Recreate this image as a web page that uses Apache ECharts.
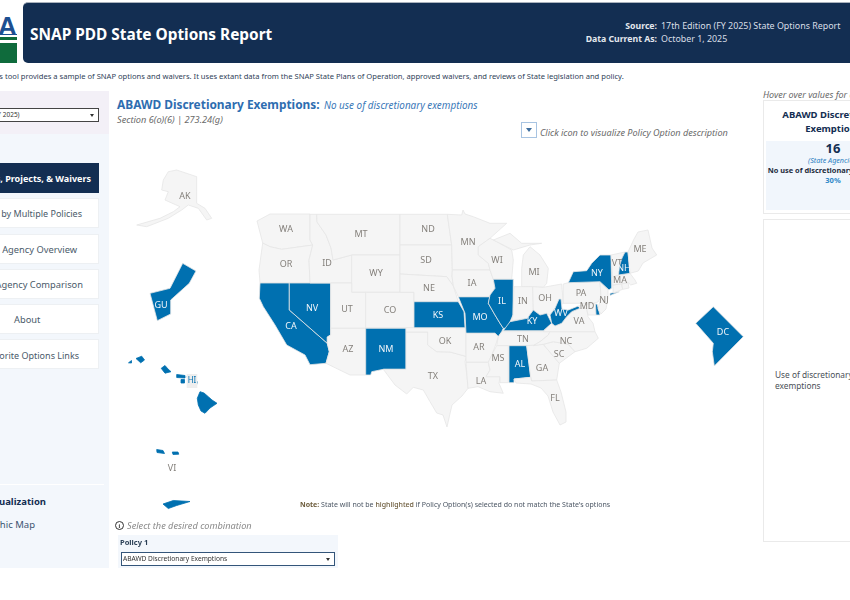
<!DOCTYPE html>
<html>
<head>
<meta charset="utf-8">
<script src="https://cdn.jsdelivr.net/npm/echarts@6/dist/echarts.min.js"></script>
<style>
    html, body { margin:0; padding:0; width:850px; height:600px; overflow:hidden; background:#fff;
        font-family:"Noto Sans", "Open Sans", sans-serif; }
    .box { position:absolute; box-sizing:border-box; }
    .t { position:absolute; white-space:nowrap; line-height:1; }
    .r { text-align:right; }
    .c { text-align:center; }
    .btn { position:absolute; left:-20px; width:118.5px; background:#fff; border:1px solid #edf0f3; box-sizing:border-box; }
    .lbl { position:absolute; white-space:nowrap; font-size:9.5px; color:#4a4f57; line-height:1; }
</style>
</head>
<body>

<!-- header -->
<div class="t" style="left:-2px;top:11px;font:bold 26px 'Liberation Sans';color:#1d4f91;">A</div>
<div class="box" style="left:0;top:34px;width:17px;height:1px;background:#1d4f91;"></div>
<div class="box" style="left:0;top:37px;width:17px;height:3px;background:#0f6b3c;"></div>
<div class="box" style="left:0;top:43px;width:17px;height:20px;background:#0f6b3c;"></div>
<div class="box" style="left:23px;top:2px;width:827px;height:61px;background:#132e52;border-top:1px solid #aab2bd;border-radius:5px 0 0 5px;"></div>
<div class="t" style="left:30px;top:27px;font-size:15.4px;font-weight:700;color:#fff;">SNAP PDD State Options Report</div>
<div class="t r" style="right:193px;top:22px;font-size:8.7px;font-weight:700;color:#e4e8ee;">Source:</div>
<div class="t" style="left:661px;top:22px;font-size:8.9px;color:#d9dee6;">17th Edition (FY 2025) State Options Report</div>
<div class="t r" style="right:193px;top:35px;font-size:8.7px;font-weight:700;color:#e4e8ee;">Data Current As:</div>
<div class="t" style="left:661px;top:35px;font-size:8.9px;color:#d9dee6;">October 1, 2025</div>

<div class="t" style="left:-11.5px;top:73px;font-size:7.6px;color:#2f4258;">This tool provides a sample of SNAP options and waivers. It uses extant data from the SNAP State Plans of Operation, approved waivers, and reviews of State legislation and policy.</div>

<!-- left sidebar -->
<div class="box" style="left:0;top:91px;width:109px;height:43px;background:#f3f0f7;"></div>
<div class="box" style="left:0;top:134px;width:109px;height:434px;background:#f3f7fc;"></div>
<div class="box" style="left:-4px;top:108px;width:103px;height:14px;background:#fff;border:1px solid #444;"></div>
<div class="t" style="left:-6px;top:112px;font-size:6.5px;color:#333;">FY 2025)</div>
<div class="box" style="left:90px;top:114px;border-left:2.5px solid transparent;border-right:2.5px solid transparent;border-top:3px solid #333;"></div>

<div class="box" style="left:-20px;top:163px;width:118.5px;height:30px;background:#132e52;"></div>
<div class="t r" style="right:759px;top:174px;font-size:9px;font-weight:700;color:#fff;">Options, Projects, &amp; Waivers</div>
<div class="btn" style="top:198px;height:30px;"></div>
<div class="t r" style="right:768px;top:209px;font-size:9px;color:#4a5a6a;">Filter by Multiple Policies</div>
<div class="btn" style="top:234px;height:30px;"></div>
<div class="t r" style="right:773px;top:245px;font-size:9.3px;color:#4a5a6a;">State Agency Overview</div>
<div class="btn" style="top:269px;height:30px;"></div>
<div class="t r" style="right:767px;top:280px;font-size:9.3px;color:#4a5a6a;">State Agency Comparison</div>
<div class="btn" style="top:304px;height:30px;"></div>
<div class="t" style="left:14px;top:315px;font-size:9.3px;color:#4a5a6a;">About</div>
<div class="btn" style="top:339px;height:30px;"></div>
<div class="t r" style="right:771px;top:351px;font-size:9px;color:#4a5a6a;">Favorite Options Links</div>

<div class="box" style="left:0;top:484px;width:104px;height:1px;background:#fff;"></div>
<div class="t r" style="right:804px;top:497px;font-size:9.5px;font-weight:700;color:#132e52;">Visualization</div>
<div class="t r" style="right:815px;top:520px;font-size:9.5px;color:#3c5470;">Geographic Map</div>

<!-- title block -->
<div class="t" style="left:117px;top:99px;font-size:11.9px;font-weight:700;color:#2e6db0;">ABAWD Discretionary Exemptions:</div>
<div class="t" style="left:324px;top:100.5px;font-size:9.9px;font-style:italic;color:#3a78b8;">No use of discretionary exemptions</div>
<div class="t" style="left:117px;top:114.5px;font-size:9.2px;font-style:italic;color:#6a6a6a;">Section 6(o)(6) | 273.24(g)</div>
<div class="box" style="left:521px;top:122px;width:16px;height:16px;background:#fff;border:1px solid #a8c4e2;"></div>
<div class="box" style="left:526px;top:128px;border-left:3px solid transparent;border-right:3px solid transparent;border-top:4px solid #3f6f9f;"></div>
<div class="t" style="left:540px;top:127.5px;font-size:9.1px;font-style:italic;color:#6a6a6a;">Click icon to visualize Policy Option description</div>

<!-- right panel -->
<div class="t" style="left:763px;top:90px;font-size:9px;font-style:italic;color:#6a6a6a;">Hover over values for details</div>
<div class="box" style="left:763px;top:100px;width:120px;height:114px;border:1px solid #eaeaea;background:#fff;"></div>
<div class="box" style="left:766px;top:141px;width:120px;height:69px;background:#f1f6fc;"></div>
<div class="t c" style="left:763px;width:140px;margin-left:0;top:110px;font-size:9.5px;font-weight:700;color:#132e52;">ABAWD Discretionary</div>
<div class="t c" style="left:763px;width:140px;top:124px;font-size:9.5px;font-weight:700;color:#132e52;">Exemptions</div>
<div class="t c" style="left:763px;width:140px;top:142px;font-size:13px;font-weight:700;color:#132e52;">16</div>
<div class="t c" style="left:763px;width:140px;top:156.5px;font-size:7.2px;font-style:italic;color:#2e7fc2;">(State Agencies)</div>
<div class="t c" style="left:763px;width:140px;top:167px;font-size:7.4px;font-weight:700;color:#1e2c3c;">No use of discretionary exemptions</div>
<div class="t c" style="left:763px;width:140px;top:177px;font-size:7.5px;font-weight:700;color:#2e88c8;">30%</div>
<div class="box" style="left:763px;top:219px;width:120px;height:323px;border:1px solid #eaeaea;background:#fff;"></div>
<div class="lbl" style="left:775px;top:371px;font-size:8.3px;">Use of discretionary</div>
<div class="lbl" style="left:775px;top:382px;font-size:8.3px;">exemptions</div>

<!-- map -->
<div id="main" class="box" style="left:110px;top:140px;width:650px;height:380px;"></div>

<!-- footer -->
<div class="t" style="left:300px;top:501px;font-size:7px;color:#4a5563;"><b style="color:#6b5a3a;">Note:</b> State will not be <b style="color:#6b5a3a;font-weight:500;">highlighted</b> if Policy Option(s) selected do not match the State's options</div>
<div class="box" style="left:115px;top:521px;width:9px;height:9px;border:1px solid #333;border-radius:50%;"></div>
<div class="t" style="left:118.5px;top:523px;font:bold 6px 'Liberation Serif';color:#333;">i</div>
<div class="t" style="left:127px;top:521px;font-size:9.2px;font-style:italic;color:#8a8a8a;">Select the desired combination</div>
<div class="box" style="left:118px;top:535px;width:220px;height:33px;background:#f3f7fc;"></div>
<div class="t" style="left:120px;top:539px;font-size:7.5px;font-weight:700;color:#2a3f55;">Policy 1</div>
<div class="box" style="left:121px;top:552px;width:214px;height:14px;background:#fff;border:1px solid #33557a;"></div>
<div class="t" style="left:123px;top:555.5px;font-size:6.6px;color:#333;">ABAWD Discretionary Exemptions</div>
<div class="box" style="left:326px;top:558px;border-left:2.5px solid transparent;border-right:2.5px solid transparent;border-top:3px solid #333;"></div>

<script>
    // 16 of 53 state agencies make no use of discretionary exemptions
    var noExemptionStates = ['CA','NV','NM','KS','MO','IL','AL','KY','WV','NY','NH','DE','GU','DC','HI','VI'];
    var unlabelledStates = ['DE','CT','RI'];
    var islandStates = ['HI','VI'];
    var stateCodes = ['WA','OR','CA','NV','ID','MT','WY','UT','CO','AZ','NM','TX','OK','ND','SD','NE','KS','MO','AR','LA',
        'MN','IA','WI','IL','MI','IN','OH','KY','TN','MS','AL','GA','FL','SC','NC','VA','WV','MD','DE','PA','NJ','NY','CT',
        'RI','MA','VT','NH','ME','AK','HI','GU','DC','VI'];

    // outlines, in its own page units (x, y down)
    var stateShapes = {
        WA: [[[257,221],[270,214],[310,214],[310,240],[312.7,245],[281.7,249.3],[270,246.7],[262.7,243]]],
        OR: [[[262.7,243],[270,246.7],[281.7,249.3],[312.7,245],[309,260],[310,283],[260,283],[259,270]]],
        CA: [[[260,283],[289.3,283],[289.3,310],[327.3,343.3],[329.3,351.7],[326,363.3],[310,364.7],[305,355],[286.7,345],[275,325],[263.3,306.7],[259.3,298.3]]],
        NV: [[[289.3,283],[330.7,283],[330.7,335],[327.3,337],[327.3,343.3],[289.3,310]]],
        ID: [[[310,214.3],[316.7,214.3],[317,222],[326,235],[331,248],[333,260],[351.7,255],[351.7,283],[310,283],[309,260],[312.7,245],[310,240]]],
        MT: [[[316.7,214.3],[400,214.3],[400,255],[351.7,255],[333,260],[331,248],[326,235],[317,222]]],
        WY: [[[351.7,255],[400,255],[400,292.3],[351.7,292.3]]],
        UT: [[[330.7,283],[351.7,283],[351.7,292.3],[365.7,292.3],[365.7,328.3],[330.7,328.3]]],
        CO: [[[365.7,292.3],[414,292.3],[414,327.7],[365.7,327.7]]],
        AZ: [[[330.7,328.3],[365.7,328.3],[365.7,375],[350,375],[326,363.3],[329.3,351.7],[327.3,343.3],[327.3,337],[330.7,335]]],
        NM: [[[365.7,328.3],[406,328.3],[406,369.3],[383.3,369.3],[371.7,371.7],[370.7,375],[365.7,375]]],
        TX: [[[406,332],[427.7,332],[427.7,345],[436.7,351.7],[450,352],[466.5,356.5],[465,361.7],[467,376],[468,388.3],[462,396],[452,405],[449,418],[447,427],[443,415],[436.7,413],[430,401.7],[423.3,390],[413.3,387.3],[406.7,394],[395,385],[383.3,369.3],[406,369.3]]],
        OK: [[[406,327.7],[466,327.7],[466,333.3],[466,353],[466.5,356.5],[450,352],[436.7,351.7],[427.7,345],[427.7,332],[406,332]]],
        ND: [[[400,214.3],[447.3,214.3],[451.7,245],[400,245]]],
        SD: [[[400,245],[451.7,245],[452.3,270],[452,276],[453.3,286],[446.7,276.7],[400,274]]],
        NE: [[[400,274],[446.7,276.7],[453.3,286],[458.3,301.7],[414,301.7],[414,292.3],[400,292.3]]],
        KS: [[[414,301.7],[458.3,301.7],[464,311.7],[465,327.7],[414,327.7]]],
        MO: [[[458.3,296.7],[490,296.7],[488.3,303.3],[495,315],[500,323.3],[503.3,328.3],[501.7,331.7],[498.3,336.7],[495,333.3],[466,333.3],[465,313.3]]],
        AR: [[[466,333.3],[495,333.3],[498.3,336.7],[495,346.7],[491.7,355],[488.3,362.3],[466,362.3]]],
        LA: [[[466,362.3],[488.3,362.3],[490,370],[486,376.7],[500,376.7],[499,383.3],[503.3,393.3],[490,391.7],[478,386.7],[468,388.3],[467,376]]],
        MN: [[[447.3,214.3],[461.7,215],[463,210],[465,214],[473.3,216.7],[490,223.3],[506.7,223.3],[490,238.3],[478.3,246.7],[478.3,255],[488.3,263.3],[490,270],[452.3,270],[451.7,245]]],
        IA: [[[452.3,270],[490,270],[493.3,279.3],[495,288.3],[490,296.7],[458.3,296.7],[453.3,286],[452,276]]],
        WI: [[[478.3,246.7],[490,238.3],[496.7,241.7],[511.7,250],[513.3,260],[511.7,279.3],[493.3,279.3],[490,270],[488.3,263.3],[478.3,255]]],
        IL: [[[493.3,279.3],[513.3,279.3],[513,315],[510,321.7],[508,328.3],[503.3,328.3],[500,323.3],[495,315],[488.3,303.3],[490,295],[495,288.3]]],
        MI: [[[523.3,255],[530,246.7],[540,255],[548.3,268.3],[546.7,283.3],[543.3,287.3],[521.7,286.7],[521.7,268.3]],
             [[493.3,240],[510,233.3],[521.7,243.3],[541.7,243.3],[530,245],[513.3,250],[496.7,241.7]]],
        IN: [[[514,286.7],[532.7,286.7],[533.3,310],[527.3,318.3],[511.7,320.7],[513,315]]],
        OH: [[[532.7,286.7],[543.3,287.3],[561.7,284],[563.3,303.3],[555,308.3],[550,315],[546.7,313.3],[540,315],[533.3,310]]],
        KY: [[[503.3,330.7],[510,321.7],[527.3,318.3],[533.3,310],[540,315],[546.7,313.3],[551.7,323.3],[543.3,330.7]]],
        TN: [[[502,331.7],[550,331.7],[548.3,335],[540,341.7],[533.3,345.7],[496.7,345.7],[498.3,336.7]]],
        MS: [[[496.7,345.7],[508.3,345.7],[508.3,382.7],[500,382.7],[500,376.7],[486,376.7],[490,370],[488.3,362.3],[491.7,355]]],
        AL: [[[509,345.7],[526.7,345.7],[530.7,377.3],[514,379],[514,382.7],[509,382.7]]],
        GA: [[[526.7,345.7],[543.3,344.3],[559.3,363.3],[556.7,380],[531.7,381],[530.7,377.3]]],
        FL: [[[514,379],[530.7,377.3],[531.7,381],[556.7,380],[561,392],[566,412],[566,422],[560,425],[553,412],[548,396],[541,388],[531,384],[516,383]]],
        SC: [[[543.3,344.3],[553.3,341.7],[568.3,344.3],[575,351.7],[559.3,363.3]]],
        NC: [[[550,331.7],[595,331.7],[598.3,338.3],[586.7,348.3],[575,351.7],[568.3,344.3],[553.3,341.7],[543.3,344.3],[533.3,345.7],[540,341.7],[548.3,335]]],
        VA: [[[543.3,331.7],[543.3,330.7],[551.7,323.3],[555,326],[561.7,323.3],[566.7,316.7],[571.7,311.7],[580,308.3],[586.7,308.3],[588,316.7],[593,323.3],[595,331.7]]],
        WV: [[[550,315],[555,308.3],[559,299],[561,299],[562,309],[568.3,310],[578.3,306],[580,308.3],[571.7,311.7],[566.7,316.7],[561.7,323.3],[555,326],[551.7,323.3]]],
        MD: [[[578.3,306],[593.3,303.3],[595.5,304],[596,315],[588,315],[586.7,308.3],[580,308.3]]],
        DE: [[[595.5,304],[597,304],[600,315],[596,315]]],
        PA: [[[563.3,284],[568.3,282.7],[600,281.7],[601,297],[598,302],[593.3,303.3],[563.3,303.3]]],
        NJ: [[[600,281.7],[608,290],[608,298],[606,309],[601,314],[598,309],[601,297]]],
        NY: [[[568.3,282.7],[573.3,271.7],[586.7,270.7],[591.7,263.3],[600,255],[611,255],[611.7,288],[609,290],[600,281.7]],
             [[610,293.3],[619.3,291.7],[620,292.7],[610,295.5]]],
        CT: [[[612.7,285],[621.7,284],[622.7,289.3],[613.3,293]]],
        RI: [[[621.7,284],[628,282.7],[629,288],[622.7,289.3]]],
        MA: [[[612.7,276.7],[630,273.3],[635,280],[636.7,283.3],[630.7,285],[628.3,282.7],[612.7,285]]],
        VT: [[[611,255],[625,252],[622,258],[619.5,266],[618.5,275],[612.7,276.7]]],
        NH: [[[625,252],[628,252],[630,273.3],[618.5,275],[619.5,266],[622,258]]],
        ME: [[[628,252],[634,239],[638,232],[648,230],[652,248],[656.7,255],[643,263],[638.3,271],[630,273.3]]],
        AK: [[[163.3,180],[168.3,171.7],[176.7,170],[196.7,176.7],[196.7,203.3],[205,208.3],[211.7,218.3],[206.7,220],[198.3,208.3],[188.3,205],[181.7,210],[168.3,218.3],[146.7,226.7],[136.7,225],[160,218.3],[173.3,211.7],[180,206.7],[165,200],[168.3,191.7],[161.7,190]]],
        HI: [[[200,391.7],[204,393],[208.3,396.7],[212,400],[217,403.3],[210,408],[205,413.3],[201,411],[198.3,405],[197.3,398.3]],
             [[187,376.5],[192,379],[197.3,381.7],[196.7,384.5],[190,384]],
             [[176.7,374.5],[185,375.5],[185,378],[176.7,377.5]],
             [[181,379.5],[184.5,379.5],[184.5,383],[181,383]],
             [[161.2,368.3],[165,365.5],[168,369],[171,371.7],[165,373.2]],
             [[136,358.5],[141.7,356.2],[144.5,360],[140.7,362.8]],
             [[128.5,362.8],[131.5,360.5],[131.5,363]]],
        GU: [[[182.7,263.3],[196,271],[189.3,283.3],[170.7,300],[170.7,314],[157.3,320.7],[150,293.3],[170,288.3]]],
        DC: [[[713.3,306.7],[743.3,336.7],[714.3,366],[712.3,351.7],[713.3,343.3],[695.7,323.3]]],
        VI: [[[156.7,449.5],[163,450.5],[164.5,453.5],[157,452.5]],
             [[172.3,452],[178,452],[178.8,454.2],[173,454.5]],
             [[163,504],[173.3,500.5],[190,501.5],[176.7,505.5],[168.3,508.5]]]
    };
    var labelSpots = {
        WA:[286,229],OR:[286,264],CA:[291,326],NV:[312,308],ID:[327,263],MT:[361,234],WY:[376,273],UT:[347,309],CO:[390,310],
        AZ:[348,349],NM:[386,349],TX:[433,376],OK:[445,341],ND:[428,229],SD:[426,260],NE:[429,288],KS:[438,315],MO:[480,317],
        AR:[479,347],LA:[481,381],MN:[468,242],IA:[472,283],WI:[497,260],IL:[502,301],MI:[534,272],IN:[523,301],OH:[545,298],
        KY:[532,321],TN:[523,339],MS:[498,358],AL:[520,364],GA:[542,368],FL:[555,398],SC:[559,354],NC:[566,341],VA:[579,321],
        WV:[561,313],MD:[587,306],DE:[598,310],PA:[581,293],NJ:[604,300],NY:[597,273],CT:[617,288],RI:[625,286],MA:[620,280],
        VT:[617,263],NH:[624,268],ME:[640,249],AK:[185,196],HI:[192,381],GU:[161,305],DC:[723,332],VI:[172,468]
    };

    var features = stateCodes.map(function (code) {
        return {
            type: 'Feature',
            properties: { name: code, cp: [labelSpots[code][0], -labelSpots[code][1]] },
            geometry: {
                type: 'MultiPolygon',
                coordinates: stateShapes[code].map(function (ring) {
                    var pts = ring.map(function (p) { return [p[0], -p[1]]; });
                    pts.push(pts[0]);
                    return [pts];
                })
            }
        };
    });
    echarts.registerMap('states', { type: 'FeatureCollection', features: features });

    var mapData = stateCodes.map(function (code) {
        var on = noExemptionStates.indexOf(code) >= 0;
        var item = {
            name: code,
            value: on ? 1 : 0,
            itemStyle: { areaColor: on ? '#0070b0' : '#f5f5f5' },
            label: { color: on ? '#f2f6fa' : '#85817c', show: unlabelledStates.indexOf(code) < 0 }
        };
        if (islandStates.indexOf(code) >= 0) item.itemStyle.borderColor = '#0070b0';
        if (code === 'VI') item.label.color = '#85817c';
        if (code === 'HI') {
            item.label = { show: true, color: '#0070b0', fontSize: 8, backgroundColor: '#eeeeee', padding: [3, 1] };
        }
        return item;
    });

    var myChart = echarts.init(document.getElementById('main'));
    myChart.setOption({
        animation: false,
        series: [{
            type: 'map',
            map: 'states',
            left: 0,
            top: 0,
            width: 650,
            height: 380,
            aspectScale: 1,
            boundingCoords: [[110, -140], [760, -520]],
            roam: false,
            selectedMode: false,
            label: { show: true, fontSize: 9, fontFamily: 'Noto Sans' },
            itemStyle: { borderColor: '#e6e6e6', borderWidth: 0.8 },
            emphasis: { disabled: true },
            data: mapData
        }]
    });
</script>
</body>
</html>
